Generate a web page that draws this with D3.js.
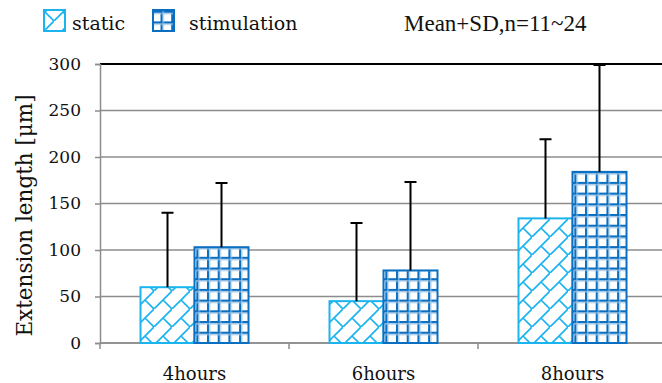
<!DOCTYPE html>
<html>
<head>
<meta charset="utf-8">
<script src="https://cdn.jsdelivr.net/npm/d3@7"></script>
<style>
  html, body { margin: 0; padding: 0; background: #fff; }
  svg { display: block; }
</style>
</head>
<body>
<svg id="chart" width="662" height="383"></svg>
<script>
// Neurite extension length by incubation time, static vs. stimulation culture
const categories = ["4hours", "6hours", "8hours"];
const seriesNames = ["static", "stimulation"];
const staticMean = [60, 45, 134];
const staticSD = [80, 84, 85];
const stimMean = [103, 78, 184];
const stimSD = [69, 95, 115];
const yTicks = [0, 50, 100, 150, 200, 250, 300];

const colors = { static: "#1cb4ee", stimulation: "#0b6fc1" };

const svg = d3.select("#chart");
const W = 662, H = 383;
const margin = { left: 100, top: 64, bottom: 343, right: 667 };

const x = d3.scaleBand().domain(categories).range([margin.left, margin.right]).padding(0);
const xs = d3.scaleBand().domain(seriesNames).range([0, x.bandwidth()]).paddingInner(0).paddingOuter(0.75);
const y = d3.scaleLinear().domain([0, 300]).range([margin.bottom, margin.top]);

const rows = categories.map((c, i) => ({
  cat: c,
  values: [
    { key: "static", mean: staticMean[i], sd: staticSD[i] },
    { key: "stimulation", mean: stimMean[i], sd: stimSD[i] }
  ]
}));

// Fill patterns: diagonal brick for static, fine grid for stimulation
const defs = svg.append("defs");
const brick = 18;
const pb = defs.append("pattern").attr("id", "pat-static")
  .attr("patternUnits", "userSpaceOnUse").attr("width", brick).attr("height", brick)
  .attr("x", 0).attr("y", 3);
pb.append("rect").attr("width", brick).attr("height", brick).attr("fill", "#fff");
pb.append("path")
  .attr("d", `M${-1},${brick + 1}L${brick + 1},${-1} M${brick / 2},${brick / 2}L${brick},${brick}`)
  .attr("stroke", colors.static).attr("stroke-width", 1.7).attr("fill", "none");

const cell = 10.7;
const pg = defs.append("pattern").attr("id", "pat-stim")
  .attr("patternUnits", "userSpaceOnUse").attr("width", cell).attr("height", cell)
  .attr("x", 0).attr("y", 0);
pg.append("rect").attr("width", cell).attr("height", cell).attr("fill", "#fff");
pg.append("path")
  .attr("d", `M1,0V${cell}M0,1H${cell}`)
  .attr("stroke", colors.stimulation).attr("stroke-width", 2.2).attr("fill", "none");
pg.append("path")
  .attr("d", `M2.8,0V${cell}M0,2.8H${cell}`)
  .attr("stroke", "#9cc4e6").attr("stroke-width", 1).attr("fill", "none");

// Horizontal gridlines
svg.append("g").selectAll("line").data(yTicks).join("line")
  .attr("x1", margin.left).attr("x2", W)
  .attr("y1", d => y(d)).attr("y2", d => y(d))
  .attr("stroke", d => d === 300 ? "#000" : "#8c8c8c")
  .attr("stroke-width", d => d === 300 ? 2 : 1.5);

// Y axis
const yAxis = d3.axisLeft(y).tickValues(yTicks).tickSize(5).tickPadding(14);
const gy = svg.append("g").attr("transform", `translate(${margin.left},0)`).call(yAxis);
gy.select(".domain").attr("stroke", "#8c8c8c").attr("stroke-width", 1.5);
gy.selectAll(".tick line").attr("stroke", "#8c8c8c").attr("stroke-width", 1.5);
gy.selectAll(".tick text")
  .attr("font-family", "'DejaVu Serif', serif").attr("font-size", 17).attr("fill", "#111");

// X axis baseline with category boundary ticks
const gx = svg.append("g");
gx.append("line").attr("x1", margin.left).attr("x2", W)
  .attr("y1", y(0)).attr("y2", y(0)).attr("stroke", "#8c8c8c").attr("stroke-width", 1.5);
const bounds = categories.map(c => x(c)).concat([x(categories[categories.length - 1]) + x.bandwidth()]);
gx.selectAll("line.tk").data(bounds).join("line").attr("class", "tk")
  .attr("x1", d => d).attr("x2", d => d)
  .attr("y1", y(0)).attr("y2", y(0) + 6)
  .attr("stroke", "#8c8c8c").attr("stroke-width", 1.5);
gx.selectAll("text").data(categories).join("text")
  .attr("x", d => x(d) + x.bandwidth() / 2).attr("y", 380)
  .attr("text-anchor", "middle")
  .attr("font-family", "'DejaVu Serif', serif").attr("font-size", 18).attr("fill", "#111")
  .text(d => d);

// Bars
const groups = svg.append("g").selectAll("g").data(rows).join("g")
  .attr("transform", d => `translate(${x(d.cat)},0)`);
groups.selectAll("rect").data(d => d.values).join("rect")
  .attr("x", d => xs(d.key)).attr("width", xs.bandwidth())
  .attr("y", d => y(d.mean)).attr("height", d => y(0) - y(d.mean))
  .attr("fill", d => d.key === "static" ? "url(#pat-static)" : "url(#pat-stim)")
  .attr("stroke", d => colors[d.key]).attr("stroke-width", 2);

// Upper error bars (mean + SD)
const cap = 6;
groups.selectAll("path.err").data(d => d.values).join("path").attr("class", "err")
  .attr("d", d => {
    const cx = xs(d.key) + xs.bandwidth() / 2;
    const t = y(d.mean + d.sd);
    return `M${cx},${y(d.mean)}V${t}M${cx - cap},${t}H${cx + cap}`;
  })
  .attr("stroke", "#000").attr("stroke-width", 2).attr("fill", "none");

// Y axis title
svg.append("text")
  .attr("transform", `translate(32,${(88 + 343) / 2}) rotate(-90)`)
  .attr("text-anchor", "middle")
  .attr("font-family", "'DejaVu Serif', serif").attr("font-size", 21.5).attr("fill", "#111")
  .text("Extension length [μm]");

// Legend
const legend = [
  { key: "static", x: 44, tx: 72 },
  { key: "stimulation", x: 153, tx: 189 }
];
const lg = svg.append("g");
lg.selectAll("rect").data(legend).join("rect")
  .attr("x", d => d.x).attr("y", 10).attr("width", 21).attr("height", 21)
  .attr("fill", d => d.key === "static" ? "url(#pat-static)" : "url(#pat-stim)")
  .attr("stroke", d => colors[d.key]).attr("stroke-width", 2);
lg.selectAll("text").data(legend).join("text")
  .attr("x", d => d.tx).attr("y", 30)
  .attr("font-family", "'DejaVu Serif', serif").attr("font-size", 19).attr("fill", "#111")
  .text(d => d.key);

svg.append("text")
  .attr("x", 404).attr("y", 31)
  .attr("font-family", "'Liberation Serif', 'Times New Roman', serif").attr("font-size", 23).attr("fill", "#111")
  .text("Mean+SD,n=11~24");
</script>
</body>
</html>
